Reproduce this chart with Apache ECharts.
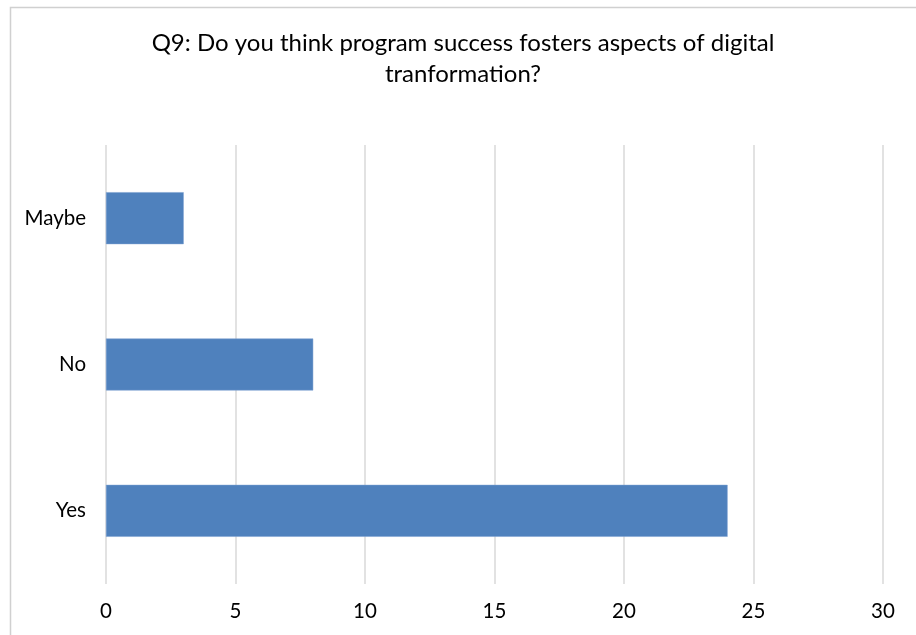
<!DOCTYPE html>
<html>
<head>
<meta charset="utf-8">
<script src="https://cdn.jsdelivr.net/npm/echarts@6/dist/echarts.min.js"></script>
<style>
  html, body { margin: 0; padding: 0; background: #fff; }
  #chart { width: 916px; height: 635px; }
</style>
</head>
<body>
<div id="chart"></div>
<script>
// Survey answers, bottom to top on the category axis
const categories = ['Yes', 'No', 'Maybe'];
const responses = [24, 8, 3];
const xTicks = { min: 0, max: 30, interval: 5 };
const titleLines = ['Q9: Do you think program success fosters aspects of digital', 'tranformation?'];

const FONT = 'Lato, "Open Sans", sans-serif';

const chart = echarts.init(document.getElementById('chart'), null, { renderer: 'canvas' });
chart.setOption({
  backgroundColor: '#ffffff',
  animation: false,
  title: {
    text: titleLines.join('\n'),
    left: 463,
    textAlign: 'center',
    top: 28,
    padding: 0,
    textStyle: {
      fontFamily: FONT,
      fontSize: 24,
      fontWeight: 'normal',
      color: '#000000',
      lineHeight: 31
    }
  },
  graphic: [{
    type: 'rect',
    shape: { x: 10.5, y: 7.5, width: 1000, height: 1000 },
    style: { fill: 'none', stroke: '#d0d0d0', lineWidth: 1.5 },
    silent: true
  }],
  grid: { left: 106, right: 33, top: 145, bottom: 51, containLabel: false },
  xAxis: {
    type: 'value',
    min: xTicks.min,
    max: xTicks.max,
    interval: xTicks.interval,
    axisLine: { show: false },
    axisTick: { show: false },
    splitLine: { show: true, lineStyle: { color: '#d9d9d9', width: 1.5 } },
    axisLabel: { fontFamily: FONT, fontSize: 20.5, color: '#000000', margin: 17 }
  },
  yAxis: {
    type: 'category',
    data: categories,
    axisLine: { show: false },
    axisTick: { show: false },
    splitLine: { show: false },
    axisLabel: { fontFamily: FONT, fontSize: 20.5, color: '#000000', margin: 20 }
  },
  series: [{
    type: 'bar',
    data: responses,
    barWidth: '35.5%',
    itemStyle: { color: '#4f81bd', borderColor: '#7a9fd0', borderWidth: 0.5 }
  }]
});
</script>
</body>
</html>
